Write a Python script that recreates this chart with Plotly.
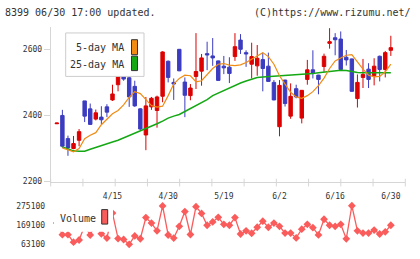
import plotly.graph_objects as go

# ---------------- data ----------------
opens = [2375,2400,2330,2300,2325,2444,2420,2389,2395,2426,2447,2493,2530,2514,2488,2420,2341,2426,2415,2458,
         2564,2500,2600,2501,2460,2518,2534,2587,2580,2565,2549,2546,2578,2628,2590,2555,2550,2569,2549,2500,
         2366,2507,2398,2481,2392,2509,2538,2522,2548,2618,2635,2631,2576,2571,2451,2515,2540,2520,2579,2539,2597]
closes = [2377,2307,2302,2315,2351,2398,2373,2408,2387,2410,2465,2520,2510,2456,2429,2359,2429,2452,2456,2592,
          2515,2495,2535,2461,2483,2533,2574,2583,2574,2506,2544,2527,2608,2600,2586,2578,2573,2542,2503,2447,
          2491,2436,2458,2456,2476,2538,2527,2509,2579,2623,2629,2539,2568,2473,2500,2524,2509,2549,2539,2590,2605]
highs = [2378,2417,2339,2338,2359,2444,2436,2418,2428,2434,2493,2532,2540,2520,2505,2422,2456,2456,2460,2594,
         2566,2512,2601,2515,2495,2649,2586,2623,2634,2566,2580,2576,2649,2646,2597,2620,2613,2590,2590,2507,
         2507,2508,2497,2493,2477,2568,2597,2523,2587,2664,2649,2654,2598,2572,2524,2571,2558,2573,2581,2595,2641]
lows = [2374,2302,2278,2298,2307,2380,2372,2385,2374,2395,2444,2473,2505,2426,2426,2356,2295,2417,2363,2440,
        2500,2447,2534,2395,2446,2480,2490,2537,2550,2505,2525,2498,2565,2586,2547,2512,2520,2473,2502,2446,
        2337,2427,2390,2452,2376,2493,2512,2464,2532,2602,2582,2538,2551,2472,2424,2483,2483,2491,2503,2515,2580]
volumes = [180000,116100,116100,75300,87000,165000,114500,180000,121400,97600,235000,95000,89600,63100,109200,
           93800,209900,179700,137300,274000,114500,97500,162200,243300,117200,269800,232700,168000,186000,211500,
           172800,168000,209900,119800,137300,124000,156900,190300,156900,179700,162200,125100,125100,98600,146300,
           172800,154800,115000,200900,168000,162200,172800,93300,275100,137300,125100,125100,141500,119800,132000,168000]
ma5 = [None,2302,2295,2290,2300,2330,2340,2348,2372,2390,2405,2415,2432,2455,2472,2466,2448,2430,2425,2428,
       2460,2495,2512,2522,2520,2502,2505,2524,2542,2555,2557,2552,2551,2553,2560,2570,2580,2590,2578,2555,
       2520,2493,2470,2456,2452,2460,2472,2490,2513,2542,2565,2574,2582,2584,2562,2540,2522,2517,2518,2532,2555]
ma25 = [None,2305,2298,2293,2292,2292,2298,2304,2310,2314,2320,2325,2332,2339,2346,2352,2359,2366,2375,2383,
        2392,2398,2403,2412,2421,2431,2440,2448,2460,2468,2476,2482,2490,2498,2504,2510,2515,2516,2517,2518,
        2519,2520,2521,2523,2524,2525,2527,2529,2531,2534,2537,2537,2536,2532,2530,2529,2529,2528,2527,2527,2529]
date_labels = ["4/15", "4/30", "5/19", "6/2", "6/16", "6/30"]
date_label_idx = [10, 20, 30, 40, 50, 60]
price_ticks = [2200, 2400, 2600]
volume_ticks = [63100, 169100, 275100]
volume_tick_text = ["63100", "169100", "275100"]

idx = list(range(len(closes)))

# ---------------- styling ----------------
W, H = 420, 259
RED = "#dc0000"
BLUE = "#3c3cc0"
ORANGE = "#f08c14"
GREEN = "#14a814"
VOLC = "#fa5c5c"
AXC = "#d6d6d6"
TXT = "#333333"
MONO = "DejaVu Sans Mono"

def px(x):
    return x / W

def py(y):
    return 1 - y / H

fig = go.Figure()

fig.add_trace(go.Candlestick(
    x=idx, open=opens, high=highs, low=lows, close=closes,
    increasing=dict(line=dict(color=RED, width=1), fillcolor=RED),
    decreasing=dict(line=dict(color=BLUE, width=1), fillcolor=BLUE),
    whiskerwidth=0, xaxis="x", yaxis="y", showlegend=False, hoverinfo="skip"))

fig.add_trace(go.Scatter(x=idx, y=ma25, mode="lines", line=dict(color=GREEN, width=1.5),
                         xaxis="x", yaxis="y", showlegend=False, hoverinfo="skip"))
fig.add_trace(go.Scatter(x=idx, y=ma5, mode="lines", line=dict(color=ORANGE, width=1.2),
                         xaxis="x", yaxis="y", showlegend=False, hoverinfo="skip"))

fig.add_trace(go.Scatter(x=idx, y=volumes, mode="lines+markers",
                         line=dict(color=VOLC, width=1.3),
                         marker=dict(symbol="diamond", size=6, color=VOLC),
                         cliponaxis=False, xaxis="x2", yaxis="y2",
                         showlegend=False, hoverinfo="skip"))

x_left, x_right = 50.7, 405.3
xrange = [-1.1, 62.6]

shapes = []
# decorative tick marks along the bottom axis of the price chart
for k in range(12):
    xp = x_left + k * (x_right - x_left) / 11
    shapes.append(dict(type="line", xref="paper", yref="paper",
                       x0=px(xp), x1=px(xp), y0=py(181), y1=py(189),
                       line=dict(color=AXC, width=1)))
# price legend box
shapes.append(dict(type="rect", xref="paper", yref="paper",
                   x0=px(65.7), x1=px(144), y0=py(75), y1=py(30),
                   line=dict(color="#cccccc", width=1), fillcolor="white", layer="above"))
shapes.append(dict(type="rect", xref="paper", yref="paper",
                   x0=px(131.5), x1=px(137.5), y0=py(52.5), y1=py(37),
                   line=dict(color="#333333", width=1), fillcolor=ORANGE, layer="above"))
shapes.append(dict(type="rect", xref="paper", yref="paper",
                   x0=px(131.5), x1=px(137.5), y0=py(69), y1=py(54),
                   line=dict(color="#333333", width=1), fillcolor=GREEN, layer="above"))
# volume legend box
shapes.append(dict(type="rect", xref="paper", yref="paper",
                   x0=px(54), x1=px(113), y0=py(236), y1=py(206),
                   line=dict(width=0), fillcolor="white", layer="above"))
shapes.append(dict(type="rect", xref="paper", yref="paper",
                   x0=px(101.7), x1=px(107.7), y0=py(228), y1=py(213),
                   line=dict(color="#333333", width=1), fillcolor=VOLC, layer="above"))

annotations = [
    dict(text="8399 06/30 17:00 updated.", x=px(3), y=py(8.5), xref="paper", yref="paper",
         xanchor="left", yanchor="middle", showarrow=False, font=dict(family=MONO, size=10, color=TXT)),
    dict(text="(C)https://www.rizumu.net/", x=px(413), y=py(8.5), xref="paper", yref="paper",
         xanchor="right", yanchor="middle", showarrow=False, font=dict(family=MONO, size=10, color=TXT)),
    dict(text="5-day MA", x=px(125.5), y=py(45), xref="paper", yref="paper",
         xanchor="right", yanchor="middle", showarrow=False, font=dict(family=MONO, size=10, color=TXT)),
    dict(text="25-day MA", x=px(125.5), y=py(62.5), xref="paper", yref="paper",
         xanchor="right", yanchor="middle", showarrow=False, font=dict(family=MONO, size=10, color=TXT)),
    dict(text="Volume", x=px(57.5), y=py(222), xref="paper", yref="paper",
         xanchor="left", yanchor="middle", showarrow=False, font=dict(family=MONO, size=10, color=TXT)),
]

fig.update_layout(
    width=W, height=H, autosize=False,
    margin=dict(l=0, r=0, t=0, b=0, pad=0),
    paper_bgcolor="white", plot_bgcolor="white",
    showlegend=False,
    boxgap=0.12,
    xaxis=dict(domain=[px(x_left), px(x_right)], range=xrange, anchor="y",
               showline=True, linecolor=AXC, linewidth=1, showgrid=False, zeroline=False,
               tickmode="array", tickvals=date_label_idx, ticktext=date_labels,
               ticks="outside", ticklen=7, tickcolor="rgba(0,0,0,0)",
               tickfont=dict(family=MONO, size=8, color=TXT),
               rangeslider=dict(visible=False), fixedrange=True),
    yaxis=dict(domain=[py(184), py(24)], range=[2200, 2667], anchor="x",
               showline=True, linecolor=AXC, linewidth=1, showgrid=False, zeroline=False,
               tickmode="array", tickvals=price_ticks, ticks="outside", ticklen=6, tickcolor=AXC,
               tickfont=dict(family=MONO, size=8, color=TXT), fixedrange=True),
    xaxis2=dict(domain=[px(x_left), px(x_right)], range=xrange, anchor="y2", visible=False,
                fixedrange=True),
    yaxis2=dict(domain=[py(249), py(209)], range=[63100, 275100], anchor="x2",
                showline=False, showgrid=False, zeroline=False,
                tickmode="array", tickvals=volume_ticks, ticktext=volume_tick_text,
                ticks="outside", ticklen=3,
                tickcolor="rgba(0,0,0,0)", tickfont=dict(family=MONO, size=8, color=TXT),
                fixedrange=True),
    shapes=shapes,
    annotations=annotations,
)

fig.write_html("out.html")
